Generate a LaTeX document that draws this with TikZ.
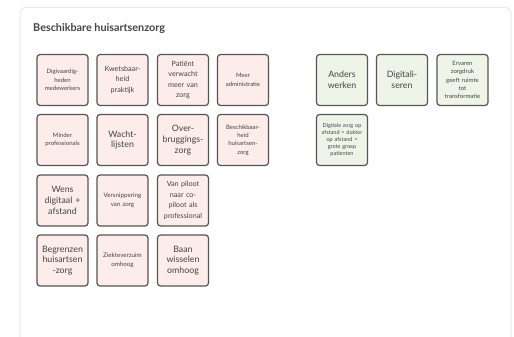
\documentclass[tikz,border=0pt]{standalone}
\usepackage{fontspec}
\setmainfont{Lato}
\definecolor{panelline}{HTML}{EAEAEA}
\definecolor{cardline}{HTML}{555555}
\definecolor{pinkfill}{HTML}{FCECEA}
\definecolor{greenfill}{HTML}{EEF5E8}
\definecolor{inktext}{HTML}{444444}
\begin{document}
\begin{tikzpicture}[x=1pt,y=-1pt,
  card/.style={draw=cardline,line width=1.2pt,rounded corners=3pt,
    minimum width=51pt,minimum height=51pt,inner sep=1pt,
    text width=49pt,align=center,text=inktext},
  pink/.style={card,fill=pinkfill},
  green/.style={card,fill=greenfill},
  ta/.style={font=\fontsize{5.5}{7.2}\selectfont},
  tw/.style={font=\fontsize{6.2}{8.5}\selectfont},
  tb/.style={font=\fontsize{6}{8.3}\selectfont},
  tc/.style={font=\fontsize{7.2}{10.5}\selectfont},
  td/.style={font=\fontsize{8.8}{10.8}\selectfont},
]
\useasboundingbox (0,0) rectangle (514,337);
\fill[white] (0,0) rectangle (514,337);
% panel
\draw[panelline,line width=1pt,rounded corners=5pt,fill=white] (20,7.5) rectangle (511,360);
\node[anchor=base west,font=\fontsize{10.8}{12}\selectfont\bfseries,text=inktext,inner sep=0pt] (title) at (33,32) {Beschikbare huisartsenzorg};
% pink cards, row 1
\node[pink,tb] (c11) at (62.5,80) {Digivaardig-\\heden\\medewerkers};
\node[pink,tc] (c12) at (122.5,80) {Kwetsbaar-\\heid\\praktijk};
\node[pink,tc] (c13) at (183,80) {Patiënt\\verwacht\\meer van\\zorg};
\node[pink,tb] (c14) at (243,80) {Meer\\administratie};
% row 2
\node[pink,tb] (c21) at (62.5,140) {Minder\\professionals};
\node[pink,td] (c22) at (122.5,140) {Wacht-\\lijsten};
\node[pink,td] (c23) at (183,140) {Over-\\bruggings-\\zorg};
\node[pink,tb] (c24) at (243,140) {Beschikbaar-\\heid\\huisartsen-\\zorg};
% row 3
\node[pink,td] (c31) at (62.5,200.5) {Wens\\digitaal +\\afstand};
\node[pink,tw] (c32) at (122.5,200.5) {Versnippering\\van zorg};
\node[pink,tc] (c33) at (183,200.5) {Van piloot\\naar co-\\piloot als\\professional};
% row 4
\node[pink,td] (c41) at (62.5,260.5) {Begrenzen\\huisartsen\\-zorg};
\node[pink,tw] (c42) at (122.5,260.5) {Ziekteverzuim\\omhoog};
\node[pink,td] (c43) at (183,260.5) {Baan\\wisselen\\omhoog};
% green cards
\node[green,td] (g11) at (342,80) {Anders\\werken};
\node[green,td] (g12) at (402,80) {Digitali-\\seren};
\node[green,tb] (g13) at (462.5,80) {Ervaren\\zorgdruk\\geeft ruimte\\tot\\transformatie};
\node[green,ta] (g21) at (342,140) {Digitale zorg op\\afstand = dokter\\op afstand =\\grote groep\\patienten};
\end{tikzpicture}
\end{document}
